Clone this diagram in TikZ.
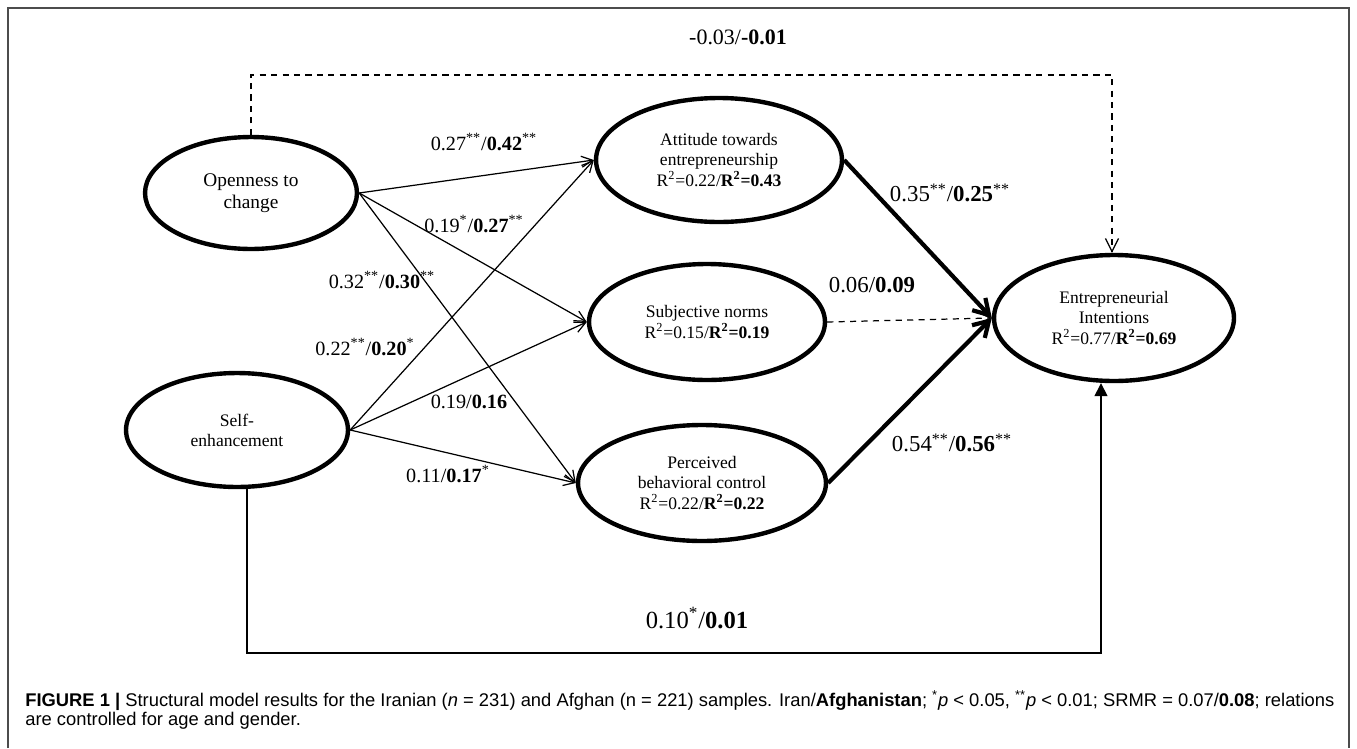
\documentclass[tikz,border=0pt]{standalone}
\usepackage{fontspec}
\setmainfont{Liberation Serif}
\newfontfamily\capfont{Liberation Sans}
\usetikzlibrary{arrows.meta,positioning,shapes.geometric}

\begin{document}
\begin{tikzpicture}[
    x=0.02cm, y=-0.02cm,
    lv/.style={draw, ellipse, line width=2.5pt, align=center, inner sep=0pt, font=\fontsize{10}{11.5}\selectfont},
    effect/.style={-{Straight Barb[length=2.2mm,width=2.2mm]}, line width=0.7pt},
    bigeffect/.style={-{Straight Barb[length=3mm,width=3.6mm]}, line width=2.4pt},
    nseffect/.style={-{Straight Barb[length=2.6mm,width=2.6mm]}, line width=0.7pt, dash pattern=on 3.5pt off 3pt},
    coef/.style={inner sep=0pt, font=\fontsize{11.5}{13}\selectfont},
    bigcoef/.style={inner sep=0pt, font=\fontsize{13}{15}\selectfont}
]
\useasboundingbox (0,0) rectangle (1357,748);
\draw[gray!60!black, line width=0.8pt] (8,748) |- (1349,8) -- (1349,748);

\node[lv, minimum width=4.24cm, minimum height=2.24cm, font=\fontsize{11}{12.5}\selectfont] (open) at (251,193) {Openness to\\change};
\node[lv, minimum width=4.44cm, minimum height=2.28cm] (self) at (237,430) {Self-\\enhancement};
\node[lv, minimum width=4.92cm, minimum height=2.48cm] (att) at (719,160) {Attitude towards\\entrepreneurship\\R\textsuperscript{2}=0.22/\textbf{R\textsuperscript{2}=0.43}};
\node[lv, minimum width=4.72cm, minimum height=2.32cm] (subj) at (707,322) {Subjective norms\\R\textsuperscript{2}=0.15/\textbf{R\textsuperscript{2}=0.19}};
\node[lv, minimum width=4.96cm, minimum height=2.32cm] (pbc) at (702,483) {Perceived\\behavioral control\\R\textsuperscript{2}=0.22/\textbf{R\textsuperscript{2}=0.22}};
\node[lv, minimum width=4.8cm, minimum height=2.52cm] (ei) at (1114,318) {Entrepreneurial\\Intentions\\R\textsuperscript{2}=0.77/\textbf{R\textsuperscript{2}=0.69}};

\coordinate (high) at (600,75);
\coordinate (low) at (600,653);

\draw[effect] (open.east) -- (att.west);
\draw[effect] (open.east) -- (subj.west);
\draw[effect] (open.east) -- (pbc.west);
\draw[effect] (self.east) -- (att.west);
\draw[effect] (self.east) -- (subj.west);
\draw[effect] (self.east) -- (pbc.west);
\draw[bigeffect] (att.east) -- (ei.west);
\draw[bigeffect] (pbc.east) -- (ei.west);
\draw[nseffect] (subj.east) -- (ei.west);
\draw[nseffect] (open.north) |- (high) -| ([xshift=-0.04cm]ei.north);
\draw[-{Triangle[length=2.6mm,width=2.6mm]}, line width=0.8pt] ([xshift=0.2cm]self.south) |- (low) -| ([xshift=-0.26cm]ei.south);

\node[coef] (oatt) at (484,142) {0.27\textsuperscript{**}/\textbf{0.42}\textsuperscript{**}};
\node[coef] (osubj) at (474,224) {0.19\textsuperscript{*}/\textbf{0.27}\textsuperscript{**}};
\node[coef] (opbc) at (382,280) {0.32\textsuperscript{**}/\textbf{0.30}\textsuperscript{**}};
\node[coef] (satt) at (365,347) {0.22\textsuperscript{**}/\textbf{0.20}\textsuperscript{*}};
\node[coef] (ssubj) at (469,402) {0.19/\textbf{0.16}};
\node[coef] (spbc) at (448,474) {0.11/\textbf{0.17}\textsuperscript{*}};
\node[bigcoef] (attei) at (950,193) {0.35\textsuperscript{**}/\textbf{0.25}\textsuperscript{**}};
\node[bigcoef] (subjei) at (872,285) {0.06/\textbf{0.09}};
\node[bigcoef] (pbcei) at (952,443) {0.54\textsuperscript{**}/\textbf{0.56}\textsuperscript{**}};
\node[inner sep=0pt, font=\fontsize{12.5}{14}\selectfont] (openei) at (738,37) {-0.03/\textbf{-0.01}};
\node[inner sep=0pt, font=\fontsize{14}{16}\selectfont] (selfei) at (697,618) {0.10\textsuperscript{*}/\textbf{0.01}};

\node[anchor=west, align=left, inner sep=0pt, font=\capfont\fontsize{10.45}{10.8}\selectfont] (caption) at (25,710) {\textbf{FIGURE 1 |} Structural model results for the Iranian (\textit{n} = 231) and Afghan (n = 221) samples. Iran/\textbf{Afghanistan}; \textsuperscript{*}\textit{p} < 0.05, \textsuperscript{**}\textit{p} < 0.01; SRMR = 0.07/\textbf{0.08}; relations\\are controlled for age and gender.};
\end{tikzpicture}
\end{document}
